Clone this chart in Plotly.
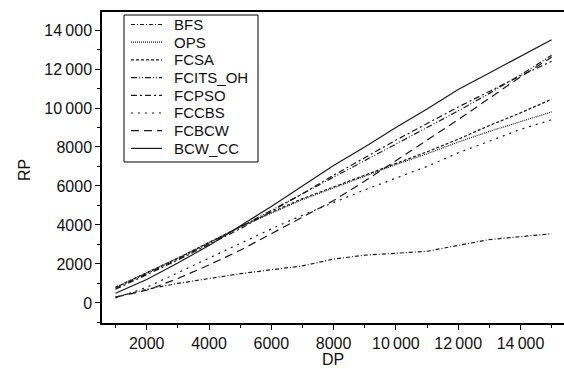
import plotly.graph_objects as go

# ---- data ----
dp = [1000, 2000, 3000, 4000, 5000, 6000, 7000, 8000, 9000, 10000, 11000, 12000, 13000, 14000, 15000]

bfs = [300, 700, 1000, 1250, 1500, 1700, 1900, 2250, 2450, 2550, 2650, 2950, 3250, 3400, 3550]
ops = [800, 1550, 2300, 3100, 3900, 4600, 5300, 5900, 6500, 7100, 7650, 8250, 8800, 9300, 9800]
fcsa = [800, 1550, 2300, 3100, 3900, 4650, 5350, 5950, 6550, 7150, 7750, 8400, 9100, 9750, 10450]
fcits_oh = [750, 1500, 2250, 3050, 3900, 4750, 5600, 6450, 7300, 8150, 9000, 9850, 10750, 11700, 12700]
fcpso = [700, 1450, 2200, 3000, 3800, 4700, 5600, 6550, 7450, 8350, 9200, 10050, 10850, 11650, 12400]
fccbs = [250, 800, 1550, 2300, 3050, 3800, 4500, 5150, 5800, 6400, 7000, 7700, 8300, 8900, 9400]
fcbcw = [300, 650, 1250, 1950, 2700, 3550, 4400, 5250, 6250, 7300, 8350, 9400, 10500, 11600, 12600]
bcw_cc = [500, 1200, 2050, 2950, 3950, 4950, 6000, 7050, 8000, 9000, 9950, 10950, 11800, 12650, 13500]

names = ["BFS", "OPS", "FCSA", "FCITS_OH", "FCPSO", "FCCBS", "FCBCW", "BCW_CC"]
series = [bfs, ops, fcsa, fcits_oh, fcpso, fccbs, fcbcw, bcw_cc]

x_tickvals = [2000, 4000, 6000, 8000, 10000, 12000, 14000]
x_ticktext = ["2000", "4000", "6000", "8000", "10\u2009000", "12\u2009000", "14\u2009000"]
y_tickvals = [0, 2000, 4000, 6000, 8000, 10000, 12000, 14000]
y_ticktext = ["0", "2000", "4000", "6000", "8000", "10\u2009000", "12\u2009000", "14\u2009000"]

# ---- styles ----
dashes = ["4px,2px,1px,2px", "1px,1px", "3px,2px", "6px,2px,1px,2px,1px,2px",
          "6px,3px,2px,3px", "2px,5px", "8px,5px", "solid"]
line_color = "#1a1a1a"
FONT = "Liberation Sans, Arial, sans-serif"

fig = go.Figure()
for nm, ys, ds in zip(names, series, dashes):
    fig.add_trace(go.Scatter(x=dp, y=ys, mode="lines", name=nm,
                             line=dict(color=line_color, width=1.2, dash=ds),
                             showlegend=False))

# plot area geometry (pixels)
W, H = 564, 369
L, R, T, B = 102, 0, 12, 46
pw, ph = W - L - R, H - T - B

def px_x(p):
    return (p - L) / pw

def px_y(p):
    return (H - B - p) / ph

shapes = []
annotations = []
# manual legend
shapes.append(dict(type="rect", xref="paper", yref="paper",
                   x0=px_x(124), x1=px_x(258), y0=px_y(162), y1=px_y(15),
                   line=dict(color="black", width=1), fillcolor="white", layer="above"))
for i, (nm, ds) in enumerate(zip(names, dashes)):
    yy = 24.5 + i * 17.7
    shapes.append(dict(type="line", xref="paper", yref="paper",
                       x0=px_x(131), x1=px_x(162), y0=px_y(yy), y1=px_y(yy),
                       line=dict(color=line_color, width=1.2, dash=ds), layer="above"))
    annotations.append(dict(text=nm, xref="paper", yref="paper", x=px_x(172), y=px_y(yy),
                            xanchor="left", yanchor="middle", showarrow=False,
                            font=dict(family=FONT, size=15, color="#111")))

annotations.append(dict(text="RP", xref="paper", yref="paper", x=px_x(24), y=px_y(170),
                        textangle=-90, showarrow=False, xanchor="center", yanchor="middle",
                        font=dict(family=FONT, size=16, color="#111")))
annotations.append(dict(text="DP", xref="paper", yref="paper", x=px_x(333), y=px_y(359),
                        showarrow=False, xanchor="center", yanchor="middle",
                        font=dict(family=FONT, size=16, color="#111")))

fig.update_layout(
    width=W, height=H,
    margin=dict(l=L, r=R, t=T, b=B, pad=0),
    paper_bgcolor="white", plot_bgcolor="white",
    font=dict(family=FONT, size=16, color="#111"),
    shapes=shapes, annotations=annotations,
    xaxis=dict(range=[565, 15397], tickvals=x_tickvals, ticktext=x_ticktext,
               showgrid=False, zeroline=False, showline=True, linecolor="black",
               linewidth=1.5, mirror=True, ticks="outside", ticklen=5, tickwidth=1.2,
               tickcolor="black", tickfont=dict(size=16),
               minor=dict(tickvals=[1000, 3000, 5000, 7000, 9000, 11000, 13000, 15000],
                          ticks="outside", ticklen=3, tickcolor="black", showgrid=False)),
    yaxis=dict(range=[-1030, 14925], tickvals=y_tickvals, ticktext=y_ticktext,
               showgrid=False, zeroline=False, showline=True, linecolor="black",
               linewidth=1.5, ticks="outside", ticklen=5, tickwidth=1.2,
               tickcolor="black", tickfont=dict(size=16),
               minor=dict(tickvals=[-1000, 1000, 3000, 5000, 7000, 9000, 11000, 13000],
                          ticks="outside", ticklen=3, tickcolor="black", showgrid=False)),
)

fig.write_html("out.html")
